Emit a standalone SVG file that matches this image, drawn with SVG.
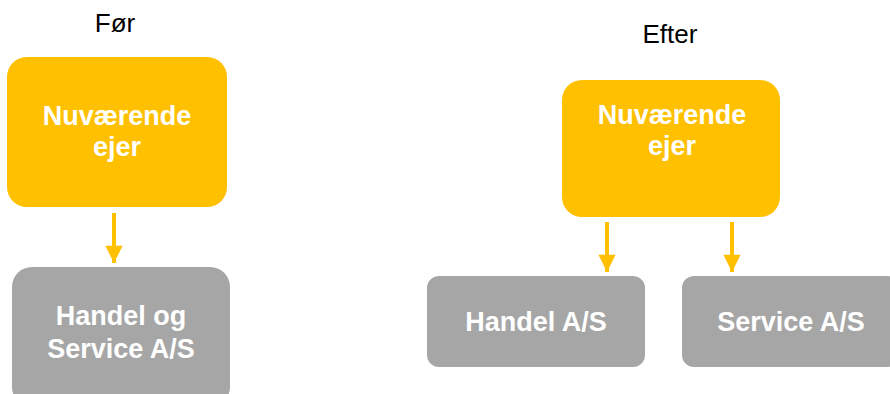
<svg xmlns="http://www.w3.org/2000/svg" width="890" height="394" viewBox="0 0 890 394">
<style>
.title{font-family:"Liberation Sans",Arial,sans-serif;font-size:26px;fill:#000;text-anchor:middle}
.lbl{font-family:"Liberation Sans",Arial,sans-serif;font-size:27px;font-weight:bold;fill:#fff;text-anchor:middle}
.own{fill:#FFC000}
.sub{fill:#A6A6A6}
.conn{stroke:#FFC000;stroke-width:4;fill:none}
</style>
<defs>
<marker id="ah" viewBox="0 0 10 10" refX="10" refY="5" markerWidth="4.5" markerHeight="4.3" markerUnits="strokeWidth" orient="auto">
<path d="M0,0 L10,5 L0,10 z" fill="#FFC000"/>
</marker>
</defs>
<text class="title" x="115" y="32">Før</text>
<text class="title" x="670" y="43">Efter</text>
<g id="owner-before">
<rect class="own" x="7" y="57" width="220" height="150" rx="20"/>
<text class="lbl" x="117" y="125">Nuværende</text>
<text class="lbl" x="117" y="156">ejer</text>
</g>
<g id="handel-service">
<rect class="sub" x="12" y="267" width="218" height="140" rx="20"/>
<text class="lbl" x="121" y="325">Handel og</text>
<text class="lbl" x="121" y="358">Service A/S</text>
</g>
<g id="owner-after">
<rect class="own" x="562" y="80" width="218" height="137" rx="20"/>
<text class="lbl" x="672" y="124">Nuværende</text>
<text class="lbl" x="672" y="155">ejer</text>
</g>
<g id="handel">
<rect class="sub" x="427" y="276" width="218" height="91" rx="12"/>
<text class="lbl" x="536" y="331">Handel A/S</text>
</g>
<g id="service">
<rect class="sub" x="682" y="276" width="218" height="91" rx="12"/>
<text class="lbl" x="791" y="331">Service A/S</text>
</g>
<g id="connectors">
<line class="conn" x1="114" y1="213" x2="114" y2="263" marker-end="url(#ah)"/>
<line class="conn" x1="607" y1="222" x2="607" y2="272" marker-end="url(#ah)"/>
<line class="conn" x1="732" y1="222" x2="732" y2="272" marker-end="url(#ah)"/>
</g>
</svg>
